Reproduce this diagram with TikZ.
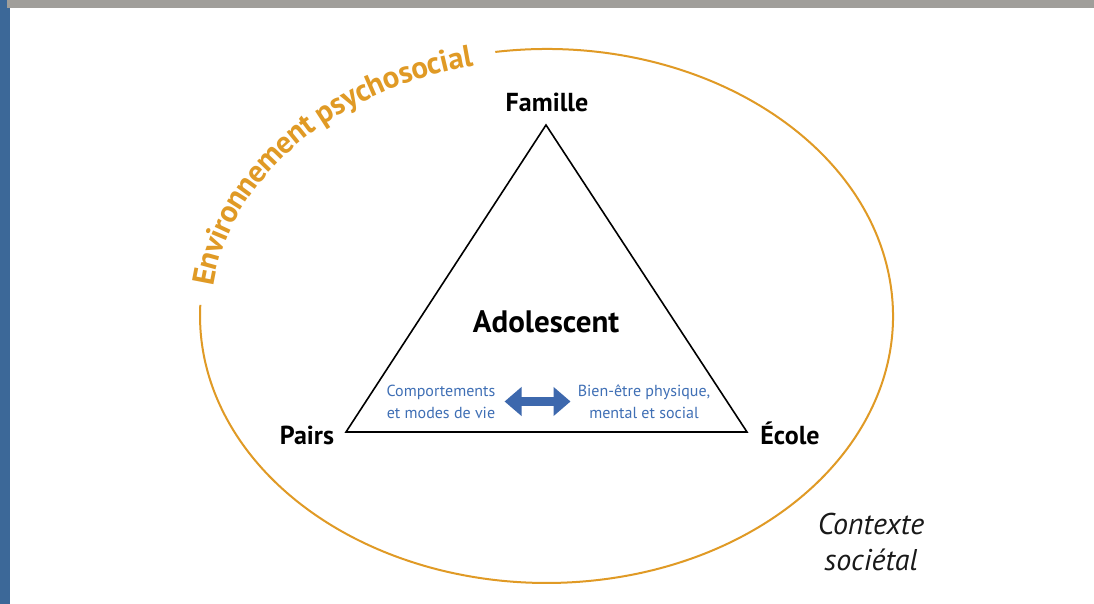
\documentclass[tikz,border=0pt]{standalone}
\usepackage{fontspec}
\setmainfont{PT Sans}
\usetikzlibrary{arrows.meta,decorations.text}
\definecolor{envorange}{HTML}{E09A25}
\definecolor{txtblue}{HTML}{3F6FB5}
\definecolor{arrblue}{HTML}{3D68AD}
\definecolor{barblue}{HTML}{3C6898}
\definecolor{bargrey}{HTML}{A09E9A}
\newcommand{\envfont}{\bfseries\fontsize{31}{31}\selectfont\color{envorange}}
\tikzset{
  cornerlbl/.style={font=\bfseries\fontsize{26}{26}\selectfont, text=black, inner sep=0pt},
  bluetxt/.style={font=\fontsize{16}{22}\selectfont, text=txtblue, align=center, inner sep=0pt},
  ringline/.style={draw=envorange, line width=2pt},
  triline/.style={draw=black, line width=1.6pt, line join=miter}
}
\begin{document}
\begin{tikzpicture}[x=1pt,y=1pt]
\useasboundingbox (0,0) rectangle (1094,604);
\fill[white] (0,0) rectangle (1094,604);
\fill[barblue] (0,0) rectangle (10,604);
\fill[bargrey] (7,596) rectangle (1094,604);
\coordinate (c) at (546.5,288);
% ring
\draw[ringline] (c) ++({346.5*cos(98.5)},{267*sin(98.5)})
  arc[start angle=98.5, end angle=-182.4, x radius=346.5, y radius=267];
% ring label
\path[decorate, decoration={text along path, text align=center, raise=-11pt,
  text={|\envfont|Environnement psychosocial}}]
  (c) ++({346.5*cos(177)},{267*sin(177)})
  arc[start angle=177, end angle=99.5, x radius=346.5, y radius=267];
% triangle
\coordinate (fam) at (546,479);
\coordinate (pai) at (346,172);
\coordinate (eco) at (747,172);
\draw[triline] (fam) -- (pai) -- (eco) -- cycle;
\node[cornerlbl, anchor=base] (famille) at (547,492) {Famille};
\node[cornerlbl, anchor=base] (pairs) at (307,159) {Pairs};
\node[cornerlbl, anchor=base] (ecole) at (790,159) {École};
\node[font=\bfseries\fontsize{31}{31}\selectfont, anchor=base, inner sep=0pt] (ado) at (546,271) {Adolescent};
\node[bluetxt] (comp) at (441,202) {Comportements\\et modes de vie};
\node[bluetxt] (bien) at (644,202) {Bien-être physique,\\mental et social};
\draw[arrblue, line width=9pt, {Triangle[length=17pt,width=28pt]}-{Triangle[length=17pt,width=28pt]}]
  ([xshift=9pt]comp.east |- 0,202.5) -- ([xshift=-7pt]bien.west |- 0,202.5);
\node[font=\itshape\fontsize{30}{36}\selectfont, align=center, anchor=base, text=black!90] (ctx) at (871,33) {Contexte\\sociétal};
\end{tikzpicture}
\end{document}
